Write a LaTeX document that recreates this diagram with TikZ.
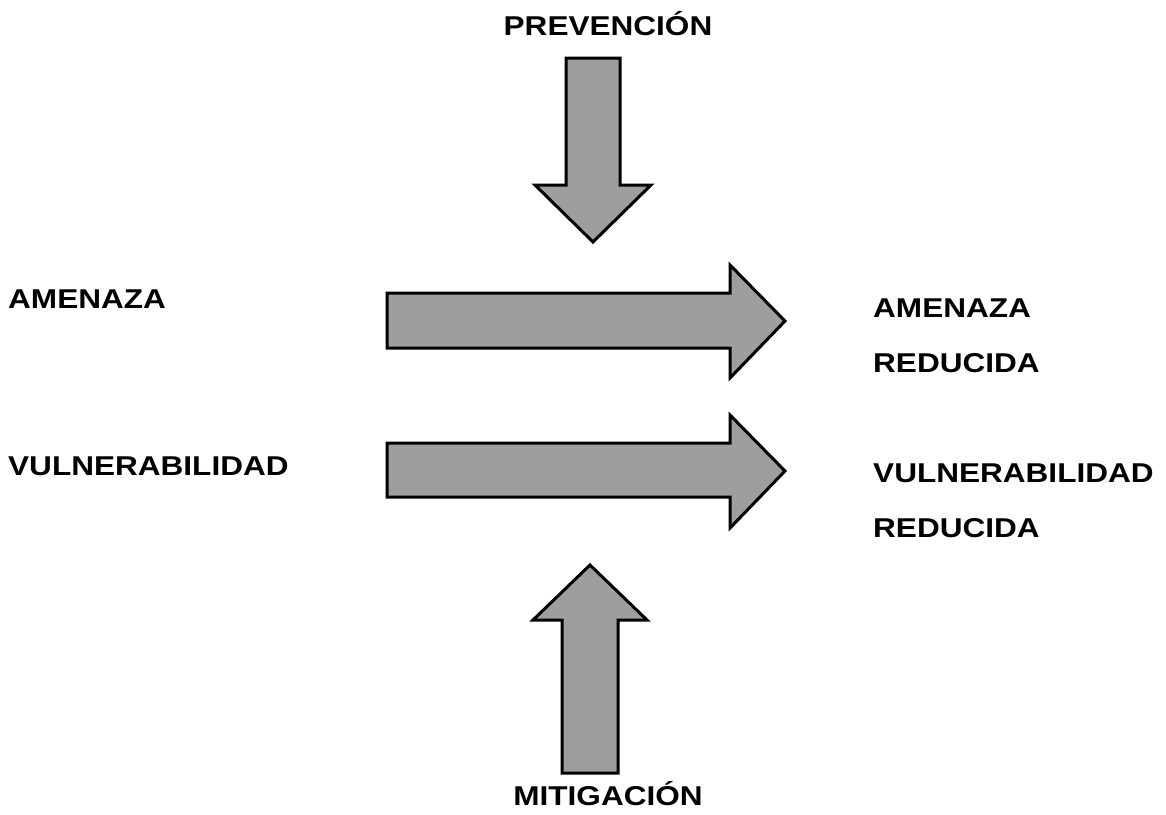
\documentclass[tikz,border=0pt]{standalone}
\usepackage{fontspec}
\newfontfamily\lblfont{Liberation Sans}[FakeStretch=1.16]
\begin{document}
\begin{tikzpicture}[x=1pt,y=-1pt,
  bigarrow/.style={draw=black,line width=3pt,line join=miter,fill={rgb,255:red,158;green,158;blue,158}},
  lbl/.style={font=\lblfont\bfseries\fontsize{27.2}{33}\selectfont,inner sep=0pt,text=black}]
\useasboundingbox (0,0) rectangle (1166,814);
% top arrow (down)
\draw[bigarrow] (566,58) -- (620,58) -- (620,185) -- (651,185) -- (593,242) -- (535,185) -- (566,185) -- cycle;
% arrow 1
\draw[bigarrow] (387,293) -- (730,293) -- (730,265) -- (785,321) -- (730,378) -- (730,348) -- (387,348) -- cycle;
% arrow 2
\draw[bigarrow] (387,443) -- (730,443) -- (730,415) -- (785,471) -- (730,528) -- (730,497) -- (387,497) -- cycle;
% bottom arrow (up)
\draw[bigarrow] (562,773) -- (618,773) -- (618,620) -- (647,620) -- (590,565) -- (533,620) -- (562,620) -- cycle;
% labels
\node[lbl,anchor=base] (prev) at (608,35) {PREVENCIÓN};
\node[lbl,anchor=base] (mit) at (608,805) {MITIGACIÓN};
\node[lbl,anchor=base west] (amen) at (8,308) {AMENAZA};
\node[lbl,anchor=base west] (vuln) at (8,475) {VULNERABILIDAD};
\node[lbl,anchor=base west] (amenr) at (873,317) {AMENAZA};
\node[lbl,anchor=base west] (amenr2) at (873,372) {REDUCIDA};
\node[lbl,anchor=base west] (vulnr) at (873,482) {VULNERABILIDAD};
\node[lbl,anchor=base west] (vulnr2) at (873,537) {REDUCIDA};
\end{tikzpicture}
\end{document}
